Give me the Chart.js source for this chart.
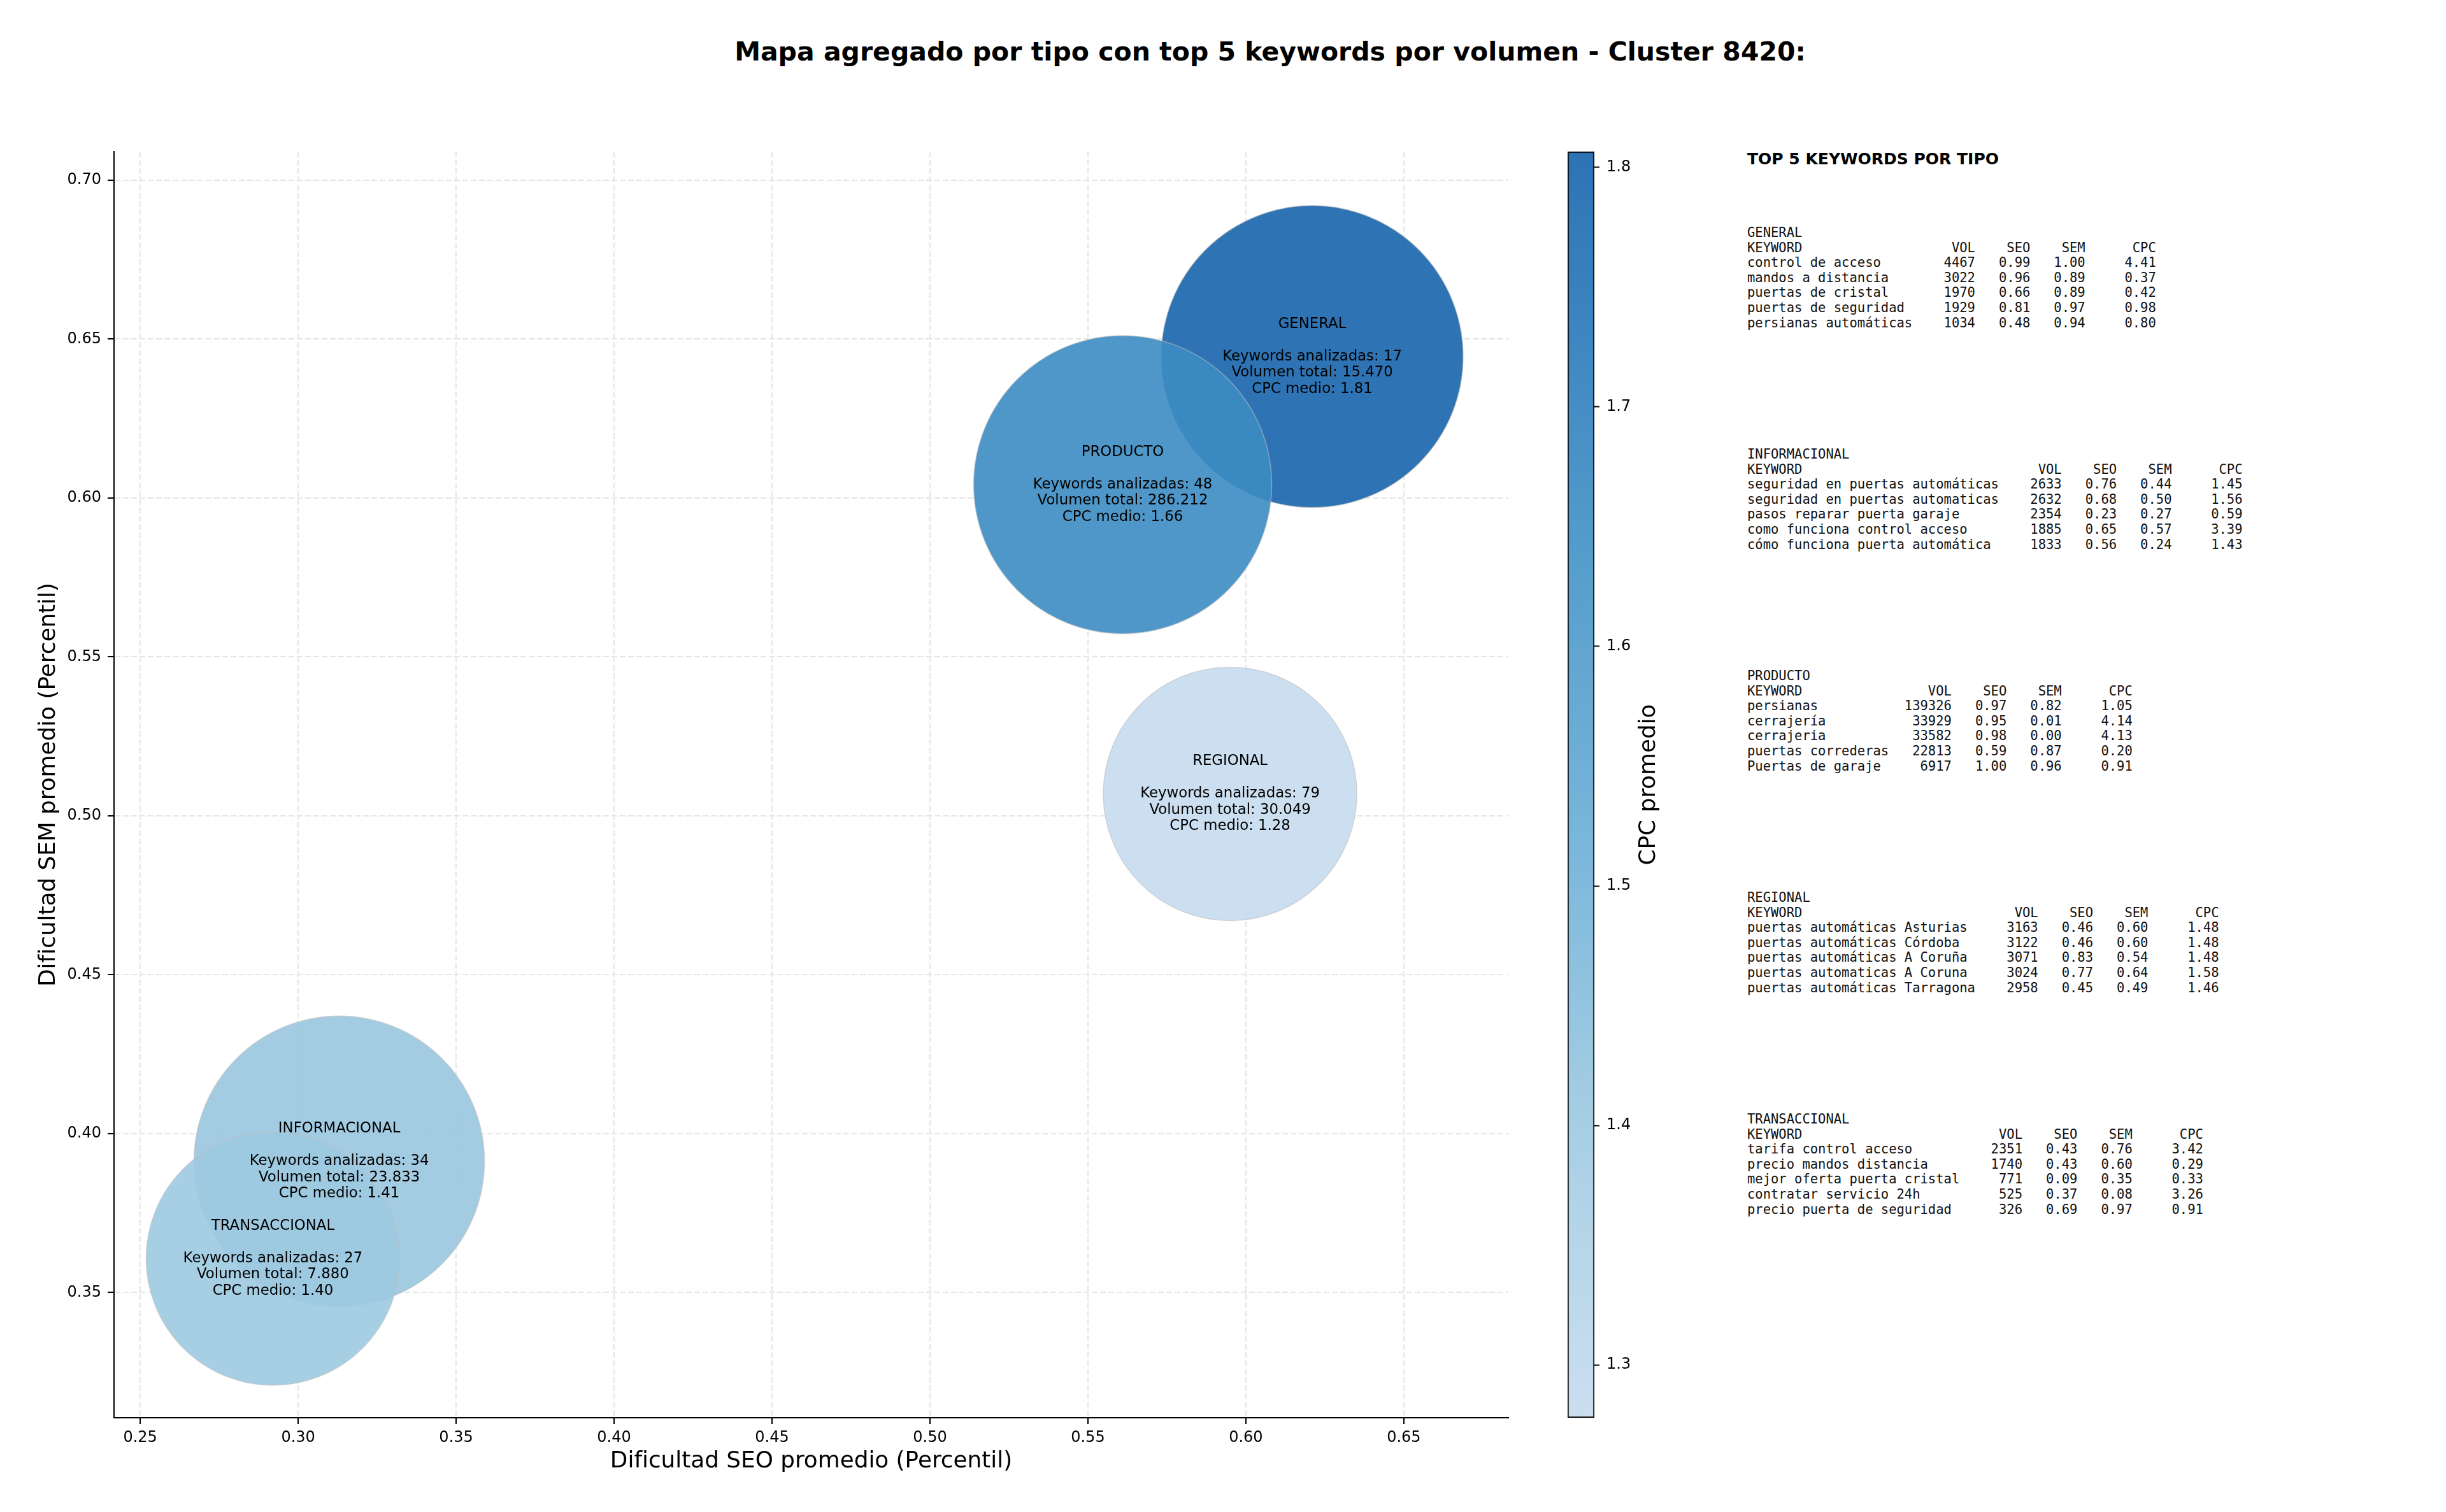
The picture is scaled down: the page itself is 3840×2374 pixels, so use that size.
<!DOCTYPE html>
<html lang="es">
<head>
<meta charset="utf-8">
<title>Mapa agregado por tipo - Cluster 8420</title>
<script src="https://cdn.jsdelivr.net/npm/chart.js@4.4.1/dist/chart.umd.min.js"></script>
<style>
  html, body { margin: 0; padding: 0; background: #fff; }
  #page { position: relative; width: 3840px; height: 2374px; overflow: hidden; font-family: "DejaVu Sans", sans-serif; color: #000; }
  #title { position: absolute; left: 1994px; top: 81px; transform: translate(-50%, -50%); font-weight: bold; font-size: 41px; white-space: nowrap; }
  #mainChart { position: absolute; left: 0; top: 0; }
  #cbarChart { position: absolute; left: 2420px; top: 0; }
  #tables { position: absolute; left: 2743px; top: 0; width: 1090px; height: 2374px; }
  #tablesHead { position: absolute; left: 0; top: 235px; font-weight: bold; font-size: 25px; line-height: 30px; white-space: nowrap; }
  pre.tbl { position: absolute; left: 0; margin: 0; font-family: "DejaVu Sans Mono", monospace; font-weight: normal; font-size: 20.5px; line-height: 23.6px; color: #111; }
</style>
</head>
<body>
<div id="page">
  <div id="title">Mapa agregado por tipo con top 5 keywords por volumen - Cluster 8420:</div>
  <canvas id="mainChart" width="2420" height="2374"></canvas>
  <canvas id="cbarChart" width="240" height="2374"></canvas>
  <div id="tables"><div id="tablesHead">TOP 5 KEYWORDS POR TIPO</div></div>
</div>
<script>
// ── Datos agregados por tipo ────────────────────────────────
const tipos              = ["GENERAL", "INFORMACIONAL", "PRODUCTO", "REGIONAL", "TRANSACCIONAL"];
const seoMedio           = [0.621, 0.313, 0.561, 0.595, 0.292];
const semMedio           = [0.6445, 0.3913, 0.6042, 0.5069, 0.3607];
const cpcMedio           = [1.8066, 1.41, 1.66, 1.278, 1.40];
const keywordsAnalizadas = [17, 34, 48, 79, 27];
const volumenTotal       = [15470, 23833, 286212, 30049, 7880];
const bubbleRadius       = [237, 228, 234, 199, 199];

const xTicksStep   = 0.05;
const cbarTickStep = 0.1;

// ── Top 5 keywords por tipo: [keyword, vol, seo, sem, cpc] ───
const kwGeneral = [
  ["control de acceso",     4467, 0.99, 1.00, 4.41],
  ["mandos a distancia",    3022, 0.96, 0.89, 0.37],
  ["puertas de cristal",    1970, 0.66, 0.89, 0.42],
  ["puertas de seguridad",  1929, 0.81, 0.97, 0.98],
  ["persianas automáticas", 1034, 0.48, 0.94, 0.80]
];
const kwInformacional = [
  ["seguridad en puertas automáticas", 2633, 0.76, 0.44, 1.45],
  ["seguridad en puertas automaticas", 2632, 0.68, 0.50, 1.56],
  ["pasos reparar puerta garaje",      2354, 0.23, 0.27, 0.59],
  ["como funciona control acceso",     1885, 0.65, 0.57, 3.39],
  ["cómo funciona puerta automática",  1833, 0.56, 0.24, 1.43]
];
const kwProducto = [
  ["persianas",          139326, 0.97, 0.82, 1.05],
  ["cerrajería",          33929, 0.95, 0.01, 4.14],
  ["cerrajeria",          33582, 0.98, 0.00, 4.13],
  ["puertas correderas",  22813, 0.59, 0.87, 0.20],
  ["Puertas de garaje",    6917, 1.00, 0.96, 0.91]
];
const kwRegional = [
  ["puertas automáticas Asturias",  3163, 0.46, 0.60, 1.48],
  ["puertas automáticas Córdoba",   3122, 0.46, 0.60, 1.48],
  ["puertas automáticas A Coruña",  3071, 0.83, 0.54, 1.48],
  ["puertas automaticas A Coruna",  3024, 0.77, 0.64, 1.58],
  ["puertas automáticas Tarragona", 2958, 0.45, 0.49, 1.46]
];
const kwTransaccional = [
  ["tarifa control acceso",       2351, 0.43, 0.76, 3.42],
  ["precio mandos distancia",     1740, 0.43, 0.60, 0.29],
  ["mejor oferta puerta cristal",  771, 0.09, 0.35, 0.33],
  ["contratar servicio 24h",       525, 0.37, 0.08, 3.26],
  ["precio puerta de seguridad",   326, 0.69, 0.97, 0.91]
];
const tablaOrden = [
  ["GENERAL", kwGeneral],
  ["INFORMACIONAL", kwInformacional],
  ["PRODUCTO", kwProducto],
  ["REGIONAL", kwRegional],
  ["TRANSACCIONAL", kwTransaccional]
];

// ── Colormap (Blues, tramo 0.25–0.80) ────────────────────────
const BLUES = [
  [247,251,255],[222,235,247],[198,219,239],[158,202,225],[107,174,214],
  [66,146,198],[33,113,181],[8,81,156],[8,48,107]
];
const cpcMin = Math.min(...cpcMedio);
const cpcMax = Math.max(...cpcMedio);

function blues(t) {
  const p = Math.max(0, Math.min(1, t)) * (BLUES.length - 1);
  const i = Math.min(Math.floor(p), BLUES.length - 2);
  const f = p - i;
  return BLUES[i].map((c, k) => Math.round(c + (BLUES[i + 1][k] - c) * f));
}
function cpcColor(v) {
  const t = (v - cpcMin) / (cpcMax - cpcMin);
  const c = blues(0.25 + t * 0.55);
  return `rgba(${c[0]},${c[1]},${c[2]},0.9)`;
}
function fmtMiles(n) {
  return String(n).replace(/\B(?=(\d{3})+(?!\d))/g, ".");
}

const FONT = "DejaVu Sans";

// bubbles must not push the plot area inwards (matplotlib keeps fixed axes)
Chart.BubbleController.prototype.getMaxOverflow = function () { return false; };

// ── Etiquetas dentro de las burbujas ────────────────────────
const bubbleLabels = {
  id: "bubbleLabels",
  afterDatasetsDraw(chart) {
    const { ctx } = chart;
    const meta = chart.getDatasetMeta(0);
    ctx.save();
    ctx.font = `22.8px "${FONT}"`;
    ctx.fillStyle = "#000";
    ctx.textAlign = "center";
    ctx.textBaseline = "middle";
    meta.data.forEach((pt, i) => {
      const lines = [
        tipos[i],
        "",
        `Keywords analizadas: ${keywordsAnalizadas[i]}`,
        `Volumen total: ${fmtMiles(volumenTotal[i])}`,
        `CPC medio: ${cpcMedio[i].toFixed(2)}`
      ];
      lines.forEach((l, k) => ctx.fillText(l, pt.x, pt.y + (k - 2) * 25.5));
    });
    ctx.restore();
  }
};

const axisGrid = {
  color: "#e6e6e6",
  lineWidth: 2,
  tickColor: "#000",
  tickWidth: 2,
  tickLength: 10
};
const axisBorder = { color: "#000", width: 2, dash: [9, 4] };

new Chart(document.getElementById("mainChart"), {
  type: "bubble",
  data: {
    datasets: [{
      data: tipos.map((t, i) => ({ x: seoMedio[i], y: semMedio[i], r: bubbleRadius[i] })),
      backgroundColor: cpcMedio.map(cpcColor),
      borderColor: "rgba(190,190,190,0.6)",
      borderWidth: 1.5
    }]
  },
  options: {
    responsive: false,
    animation: false,
    devicePixelRatio: 1,
    events: [],
    layout: { padding: { left: 0, top: 238, right: 52, bottom: 0 } },
    plugins: { legend: { display: false }, tooltip: { enabled: false } },
    scales: {
      x: {
        type: "linear",
        position: "bottom",
        min: 0.2417, max: 0.6831,
        afterFit: s => { s.height = 148; },
        grid: axisGrid,
        border: axisBorder,
        ticks: {
          stepSize: xTicksStep, includeBounds: false, padding: 7,
          color: "#000", font: { family: FONT, size: 24 },
          callback: v => v.toFixed(2)
        },
        title: {
          display: true, text: "Dificultad SEO promedio (Percentil)",
          color: "#000", font: { family: FONT, size: 35.8 },
          padding: { top: 0, bottom: 58 }
        }
      },
      y: {
        type: "linear",
        position: "left",
        min: 0.3106, max: 0.709,
        afterFit: s => { s.width = 179; },
        grid: axisGrid,
        border: axisBorder,
        ticks: {
          stepSize: xTicksStep, includeBounds: false, padding: 10,
          color: "#000", font: { family: FONT, size: 24 },
          callback: v => v.toFixed(2)
        },
        title: {
          display: true, text: "Dificultad SEM promedio (Percentil)",
          color: "#000", font: { family: FONT, size: 35.8 },
          padding: { top: 55, bottom: 0 }
        }
      }
    }
  },
  plugins: [bubbleLabels]
});

// ── Barra de color (CPC promedio) ───────────────────────────
const cbarLabel = {
  id: "cbarLabel",
  afterDraw(chart) {
    const { ctx } = chart;
    ctx.save();
    ctx.translate(169, 1232);
    ctx.rotate(-Math.PI / 2);
    ctx.font = `35.8px "${FONT}"`;
    ctx.fillStyle = "#000";
    ctx.textAlign = "center";
    ctx.textBaseline = "middle";
    ctx.fillText("CPC promedio", 0, 0);
    ctx.restore();
  }
};

function cbarGradient(context) {
  const { ctx, chartArea } = context.chart;
  if (!chartArea) return cpcColor(cpcMax);
  const g = ctx.createLinearGradient(0, chartArea.bottom, 0, chartArea.top);
  for (let k = 0; k <= 24; k++) {
    g.addColorStop(k / 24, cpcColor(cpcMin + (cpcMax - cpcMin) * k / 24));
  }
  return g;
}

new Chart(document.getElementById("cbarChart"), {
  type: "bar",
  data: {
    labels: [""],
    datasets: [{
      data: [[cpcMin, cpcMax]],
      backgroundColor: cbarGradient,
      borderColor: "#000",
      borderWidth: 2,
      borderSkipped: false,
      barPercentage: 1,
      categoryPercentage: 1
    }]
  },
  options: {
    responsive: false,
    animation: false,
    devicePixelRatio: 1,
    events: [],
    layout: { padding: { left: 41, top: 238, right: 57, bottom: 148 } },
    plugins: { legend: { display: false }, tooltip: { enabled: false } },
    scales: {
      x: { display: false },
      y: {
        position: "right",
        min: cpcMin, max: cpcMax,
        afterFit: s => { s.width = 100; },
        border: { display: false },
        grid: { drawOnChartArea: false, drawTicks: true, tickLength: 8, tickColor: "#000", tickWidth: 2 },
        ticks: {
          stepSize: cbarTickStep, includeBounds: false, padding: 11,
          color: "#000", font: { family: FONT, size: 24 },
          callback: v => v.toFixed(1)
        }
      }
    }
  },
  plugins: [cbarLabel]
});

// ── Tablas de top 5 keywords ────────────────────────────────
const tablesEl = document.getElementById("tables");
tablaOrden.forEach(([nombre, filas], i) => {
  const w = Math.max(...filas.map(f => f[0].length)) + 2;
  const lines = [nombre];
  lines.push("KEYWORD".padEnd(w) + "VOL".padStart(6) + " " + "SEO".padStart(6) + " " +
             "SEM".padStart(6) + " " + "CPC".padStart(8));
  filas.forEach(([kw, vol, seo, sem, cpc]) => {
    lines.push(kw.padEnd(w) + String(vol).padStart(6) + " " + seo.toFixed(2).padStart(6) + " " +
               sem.toFixed(2).padStart(6) + " " + cpc.toFixed(2).padStart(8));
  });
  const pre = document.createElement("pre");
  pre.className = "tbl";
  pre.style.top = (354 + i * 348) + "px";
  pre.textContent = lines.join("\n");
  tablesEl.appendChild(pre);
});
</script>
</body>
</html>
